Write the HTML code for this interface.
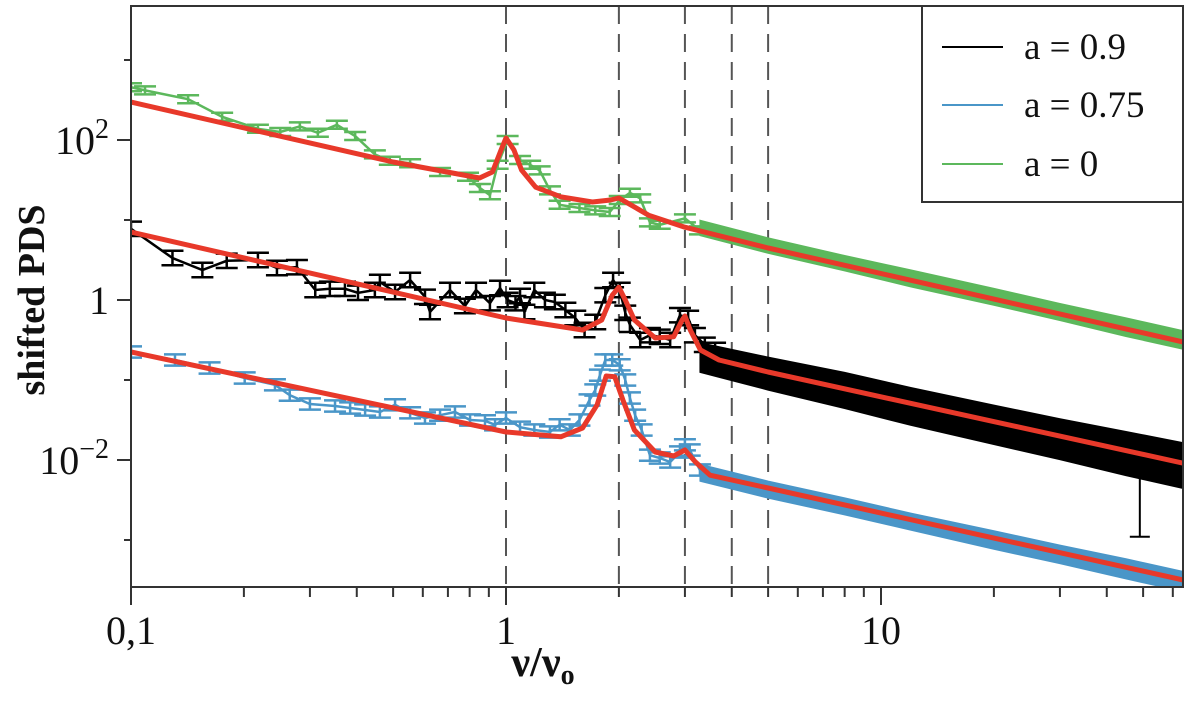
<!DOCTYPE html>
<html><head><meta charset="utf-8"><style>
html,body{margin:0;padding:0;background:#fff;}
svg{display:block;}
svg text{font-family:"Liberation Serif","DejaVu Serif",serif;}
</style></head><body>
<svg id="chart" width="1200" height="702" viewBox="0 0 1200 702" xmlns="http://www.w3.org/2000/svg">
</svg>
<script>
// ---------- data ----------
const vlines = [1, 2, 3, 4, 5];
const xTicksMajor = [0.1, 1, 10];
const xTickLabels = ["0,1", "1", "10"];
const yTickExp = [-3, -2, -1, 0, 1, 2, 3];
const yLabelExp = [-2, 0, 2];

// red fit curves (freq, log10 PDS)
const fitGreenF = [0.1,0.5,0.85,0.92,0.97,1.0,1.05,1.1,1.2,1.4,1.7,1.9,2.0,2.15,2.4,3,5,64];
const fitGreenL = [2.475,1.725,1.525,1.6,1.875,2.025,1.875,1.625,1.41,1.29,1.225,1.25,1.275,1.19,1.06,0.91,0.65,-0.525];
const fitBlackF = [0.1,1,1.6,1.8,1.92,2.0,2.08,2.2,2.5,2.8,2.95,3.0,3.1,3.3,3.7,5,64];
const fitBlackL = [0.85,-0.225,-0.375,-0.25,0.06,0.16,0,-0.25,-0.475,-0.46,-0.25,-0.2,-0.375,-0.625,-0.75,-0.9,-2.04];
const fitBlueF = [0.1,1,1.4,1.6,1.75,1.85,1.95,2.05,2.2,2.5,2.8,3.0,3.2,3.5,5,64];
const fitBlueL = [-0.65,-1.65,-1.71,-1.6,-1.31,-0.95,-0.96,-1.25,-1.625,-1.9,-1.95,-1.875,-2.025,-2.19,-2.35,-3.5];

// low-frequency data points (freq, log10 PDS)
const greenF = [0.1,0.109,0.142,0.175,0.218,0.25,0.282,0.315,0.354,0.396,0.447,0.49,0.555,0.667,0.792,0.852,0.906,0.95,1.01,1.09,1.16,1.23,1.31,1.39,1.57,1.73,1.89,2.01,2.14,2.28,2.42,2.57,3.0,3.29];
const greenL = [2.66,2.62,2.51,2.29,2.14,2.1,2.17,2.09,2.19,2.05,1.82,1.74,1.71,1.6,1.54,1.4,1.31,1.69,2.0,1.75,1.69,1.62,1.37,1.19,1.15,1.12,1.1,1.25,1.34,1.27,0.97,0.94,1.02,0.87];
const blackF = [0.1,0.129,0.155,0.18,0.218,0.245,0.277,0.31,0.339,0.372,0.403,0.447,0.461,0.506,0.555,0.608,0.627,0.709,0.777,0.832,0.906,0.964,1.01,1.06,1.09,1.12,1.19,1.27,1.35,1.44,1.53,1.62,1.73,1.84,1.93,2.01,2.08,2.14,2.28,2.42,2.57,2.74,2.91,3.06,3.19,3.39,3.61];
const blackL = [0.89,0.525,0.375,0.49,0.5,0.4,0.41,0.125,0.14,0.14,0.09,0.125,0.225,0.1,0.25,0.04,-0.15,0.125,-0.075,0.125,-0.04,0.15,0,-0.04,0.05,-0.15,0.125,0,-0.025,-0.125,-0.225,-0.375,-0.275,0.06,0.25,0.125,-0.16,-0.31,-0.5,-0.44,-0.46,-0.5,-0.19,-0.225,-0.44,-0.56,-0.625];
const blueF = [0.1,0.131,0.162,0.201,0.242,0.265,0.3,0.35,0.384,0.421,0.461,0.506,0.555,0.608,0.667,0.731,0.802,0.879,0.935,1,1.09,1.19,1.31,1.39,1.48,1.57,1.67,1.73,1.78,1.84,1.92,2.01,2.08,2.14,2.21,2.3,2.42,2.57,2.74,2.91,3.0,3.09,3.29];
const blueL = [-0.65,-0.75,-0.85,-0.975,-1.06,-1.19,-1.3,-1.325,-1.35,-1.375,-1.4,-1.31,-1.41,-1.475,-1.44,-1.4,-1.5,-1.51,-1.56,-1.475,-1.59,-1.625,-1.65,-1.56,-1.625,-1.5,-1.25,-1.125,-0.94,-0.75,-0.75,-0.81,-1.0,-1.225,-1.44,-1.625,-1.94,-1.975,-2.025,-1.9,-1.81,-1.875,-2.125];

// high-frequency dense bands (freq, center log10 PDS, half-width)
const bandF = [3.3,5,8,12,20,30,45,64];
const greenBandC = [0.9,0.68,0.46,0.27,0.04,-0.15,-0.34,-0.5];
const greenBandW = [0.09,0.09,0.09,0.1,0.1,0.1,0.11,0.11];
const blackBandC = [-0.72,-0.92,-1.13,-1.33,-1.56,-1.74,-1.92,-2.07];
const blackBandW = [0.18,0.2,0.22,0.23,0.24,0.25,0.27,0.28];
const blueBandC = [-2.16,-2.37,-2.58,-2.77,-3.0,-3.18,-3.36,-3.52];
const blueBandW = [0.1,0.1,0.1,0.1,0.11,0.11,0.12,0.12];

// outlier error bar (black)
const outlierF = [49];
const outlierTop = [-2.12];
const outlierBot = [-2.96];

// ---------- axes ----------
const X0 = 131, X1 = 1183, Y0 = 6, Y1 = 587;
const xs = f => 506 + 375 * Math.log10(f);
const ys = l => 300 - 80 * l;
const NS = "http://www.w3.org/2000/svg";
const svg = document.getElementById('chart');
function mk(tag, attrs, parent) {
  const e = document.createElementNS(NS, tag);
  for (const k in attrs) e.setAttribute(k, attrs[k]);
  (parent || svg).appendChild(e);
  return e;
}
const defs = mk('defs', {});
const cp = mk('clipPath', {id: 'clip'}, defs);
mk('rect', {x: X0, y: Y0, width: X1 - X0, height: Y1 - Y0}, cp);

const plot = mk('g', {'clip-path': 'url(#clip)'});



// dashed lines
vlines.forEach(v => {
  const l = mk('line', {x1: xs(v), x2: xs(v), y1: Y0, y2: Y1, stroke: '#555', 'stroke-width': 2, 'stroke-dasharray': '18,10'}, plot);
  
  
});

function drawBand(color, C, W, name) {
  let pts = [];
  for (let i = 0; i < bandF.length; i++) pts.push(xs(bandF[i]) + ',' + ys(C[i] + W[i]));
  for (let i = bandF.length - 1; i >= 0; i--) pts.push(xs(bandF[i]) + ',' + ys(C[i] - W[i]));
  const p = mk('polygon', {points: pts.join(' '), fill: color, stroke: color, 'stroke-width': 2}, plot);
  
  
}
function drawSeries(color, F, L, err, name) {
  const g = mk('g', {stroke: color, fill: 'none', 'stroke-width': 2.5}, plot);
  
  
  mk('polyline', {points: F.map((f, i) => xs(f) + ',' + ys(L[i])).join(' ')}, g);
  F.forEach((f, i) => {
    const x = xs(f), yt = ys(L[i] + err), yb = ys(L[i] - err);
    mk('line', {x1: x, x2: x, y1: yt, y2: yb}, g);
    mk('line', {x1: x - 11, x2: x + 11, y1: yt, y2: yt}, g);
    mk('line', {x1: x - 11, x2: x + 11, y1: yb, y2: yb}, g);
  });
}
function drawFit(F, L, name) {
  const p = mk('polyline', {points: F.map((f, i) => xs(f) + ',' + ys(L[i])).join(' '), fill: 'none', stroke: '#e8392a', 'stroke-width': 5, 'stroke-linejoin': 'round'}, plot);
  
  
}

drawBand('#5cb85c', greenBandC, greenBandW, 'green-band');
drawSeries('#5cb85c', greenF, greenL, 0.05, 'series-a0');
drawBand('#4a96c8', blueBandC, blueBandW, 'blue-band');
drawSeries('#4a96c8', blueF, blueL, 0.07, 'series-a075');
drawBand('#000', blackBandC, blackBandW, 'black-band');
drawSeries('#000', blackF, blackL, 0.09, 'series-a09');
outlierF.forEach((f, i) => {
  const g = mk('g', {stroke: '#000', 'stroke-width': 2}, plot);
  
  
  const x = xs(f);
  mk('line', {x1: x, x2: x, y1: ys(outlierTop[i]), y2: ys(outlierBot[i])}, g);
  mk('line', {x1: x - 10, x2: x + 10, y1: ys(outlierBot[i]), y2: ys(outlierBot[i])}, g);
});
drawFit(fitGreenF, fitGreenL, 'fit-a0');
drawFit(fitBlackF, fitBlackL, 'fit-a09');
drawFit(fitBlueF, fitBlueL, 'fit-a075');

// frame
const frame = mk('rect', {x: X0, y: Y0, width: X1 - X0, height: Y1 - Y0, fill: 'none', stroke: '#333', 'stroke-width': 2});



// x ticks
const xax = mk('g', {stroke: '#333', 'stroke-width': 2});


for (let d = -1; d <= 1; d++) {
  for (let m = 1; m <= 9; m++) {
    const f = m * Math.pow(10, d);
    if (f > 64) break;
    const x = xs(f);
    mk('line', {x1: x, x2: x, y1: Y1, y2: Y1 + (m === 1 ? 18 : 10)}, xax);
  }
}
xTicksMajor.forEach((f, i) => {
  const t = mk('text', {x: xs(f), y: 644, 'text-anchor': 'middle', 'font-size': 40, fill: '#111'});
  t.textContent = xTickLabels[i];
  
  
});
// y ticks
const yax = mk('g', {stroke: '#333', 'stroke-width': 2});


yTickExp.forEach(e => {
  const y = ys(e);
  const major = yLabelExp.includes(e);
  mk('line', {x1: X0 - (major ? 14 : 7), x2: X0, y1: y, y2: y}, yax);
});
yLabelExp.forEach(e => {
  const t = mk('text', {x: 109, y: ys(e) + 14, 'text-anchor': 'end', 'font-size': 40, fill: '#111'});
  
  
  if (e === 0) { t.textContent = '1'; }
  else {
    t.appendChild(document.createTextNode('10'));
    const s = mk('tspan', {'font-size': 28, dy: -16}, t);
    s.textContent = e < 0 ? '\u2212' + (-e) : String(e);
  }
});
</script>
<svg style="position:absolute;left:0;top:0" width="1200" height="702">
  <text x="44" y="300" transform="rotate(-90 44 300)" text-anchor="middle" font-weight="bold" font-size="38" fill="#111">shifted PDS</text>
  <text x="543" y="676" text-anchor="middle" font-weight="bold" font-size="42" fill="#111">ν/ν<tspan font-size="28" dy="8">o</tspan></text>
  <g>
    <rect x="922" y="6" width="261" height="196" fill="#fff" stroke="#333" stroke-width="2"/>
    <g>
      <line x1="942" x2="1003" y1="47" y2="47" stroke="#000" stroke-width="2"/>
      <text x="1024" y="59" font-size="37" fill="#111">a = 0.9</text>
    </g>
    <g>
      <line x1="942" x2="1003" y1="105" y2="105" stroke="#4a96c8" stroke-width="2"/>
      <text x="1024" y="117" font-size="37" fill="#111">a = 0.75</text>
    </g>
    <g>
      <line x1="942" x2="1003" y1="164" y2="164" stroke="#5cb85c" stroke-width="2"/>
      <text x="1024" y="176" font-size="37" fill="#111">a = 0</text>
    </g>
  </g>
</svg>
</body></html>
